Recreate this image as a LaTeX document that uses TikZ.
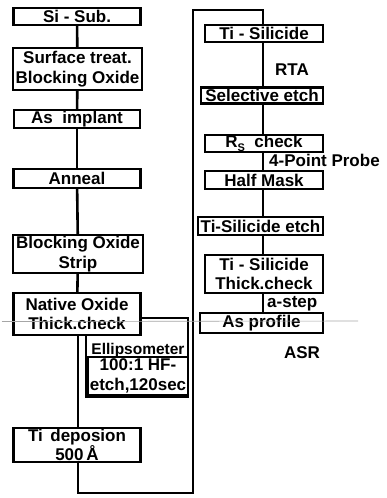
\documentclass[tikz,border=0pt]{standalone}
\usepackage{fontspec}
\setmainfont{Liberation Sans}
\usepackage{tikz}
\usetikzlibrary{positioning,calc}
\newcommand{\boxfont}{\fontsize{17}{19}\selectfont\bfseries}
\newcommand{\twofont}{\fontsize{17}{19.5}\selectfont\bfseries}
\newcommand{\lowsub}[1]{\raisebox{-0.4ex}{\fontsize{11}{11}\selectfont #1}}
\tikzset{
	stepbox/.style={draw, line width=2.4pt, fill=white, align=center,
		font=\boxfont, inner sep=0pt},
	lbl/.style={font=\boxfont, inner sep=0pt},
	link/.style={line width=2.6pt},
	scan/.style={line width=0.6pt, gray!70},
}

\begin{document}
\begin{tikzpicture}[x=1pt, y=-1pt]
				\useasboundingbox (0,0) rectangle (386,498);
				% ellipsometer box sits behind the native oxide step
				\node[draw, line width=2.4pt, minimum width=102pt, minimum height=79pt, inner sep=0pt] at (137,357.5) (ell) {};
				\node[lbl, font=\fontsize{15.5}{15.5}\selectfont\bfseries] at (138,350) (ellt) {Ellipsometer};
				\node[stepbox, minimum width=100pt, minimum height=38pt, font=\twofont] at (138,376) (hf) {100:1 HF-\\etch,120sec};
				% left column
				\node[stepbox, minimum width=127pt, minimum height=17pt] at (77,16.5) (sub) {Si - Sub.};
				\node[stepbox, minimum width=129pt, minimum height=42pt, font=\twofont] at (77.5,69) (surf) {Surface treat.\\Blocking Oxide};
				\node[stepbox, minimum width=126pt, minimum height=18pt] at (77,119) (imp) {As \ implant};
				\node[stepbox, minimum width=127pt, minimum height=19pt] at (77,178.5) (ann) {Anneal};
				\node[stepbox, minimum width=130pt, minimum height=38pt, font=\twofont] at (78,254) (strip) {Blocking Oxide\\Strip};
				\node[stepbox, minimum width=127pt, minimum height=42pt, font=\twofont] at (77,314) (nat) {Native Oxide\\Thick.check};
				\node[stepbox, minimum width=127pt, minimum height=34pt, font=\fontsize{17}{18}\selectfont\bfseries] at (77,445) (dep) {Ti \,deposion\\500\,Å};
				% right column
				\node[stepbox, minimum width=118pt, minimum height=17pt] at (264,33.5) (tisi) {Ti - Silicide};
				\node[stepbox, minimum width=122pt, minimum height=16pt] at (262,95.5) (sel) {Selective etch};
				\node[stepbox, minimum width=118pt, minimum height=17pt] at (264,143.5) (rs) {R\lowsub{S} \ check};
				\node[stepbox, minimum width=118pt, minimum height=18pt] at (264,180) (half) {Half Mask};
				\node[stepbox, minimum width=125pt, minimum height=18pt] at (260.5,226) (siet) {Ti-Silicide etch};
				\node[stepbox, minimum width=118pt, minimum height=38pt, font=\twofont] at (264,274) (thk) {Ti - Silicide\\Thick.check};
				\node[stepbox, minimum width=123pt, minimum height=20pt] at (261.5,323) (prof) {As profile};
				\node[lbl] at (292,70) (rta) {RTA};
				\node[lbl, anchor=west] at (269,160) (fpp) {4-Point Probe};
				\node[lbl, anchor=west] at (267,304) (ast) {a-step};
				\node[lbl] at (302,353) (asr) {ASR};
				% route from the last left step to the top of the right column
				\coordinate (c1) at (78,493);
				\coordinate (c2) at (193,493);
				\coordinate (c3) at (193,10);
				\coordinate (c4) at (263,10);
				\draw[link] (sub) -- (surf);
				\draw[link] (surf) -- (imp);
				\draw[link] (imp) -- (ann);
				\draw[link] (ann) -- (strip);
				\draw[link] (strip) -- (nat);
				\draw[link] (nat.south -| c1) -- (dep.north -| c1);
				\draw[link] (dep.south -| c1) -- (c1) -- (c2) -- (c3) -- (c4) -- (tisi.north -| c4);
				\draw[link] (tisi.south -| c4) -- (sel.north -| c4);
				\draw[link] (sel.south -| c4) -- (rs.north -| c4);
				\draw[link] (rs.south -| c4) -- (half.north -| c4);
				\draw[link] (half.south -| c4) -- (siet.north -| c4);
				\draw[link] (siet.south -| c4) -- (thk.north -| c4);
				\draw[link] (thk.south -| c4) -- (prof.north -| c4);
				\draw[scan] (2,321.5) -- (358,321);
			\end{tikzpicture}
\end{document}
